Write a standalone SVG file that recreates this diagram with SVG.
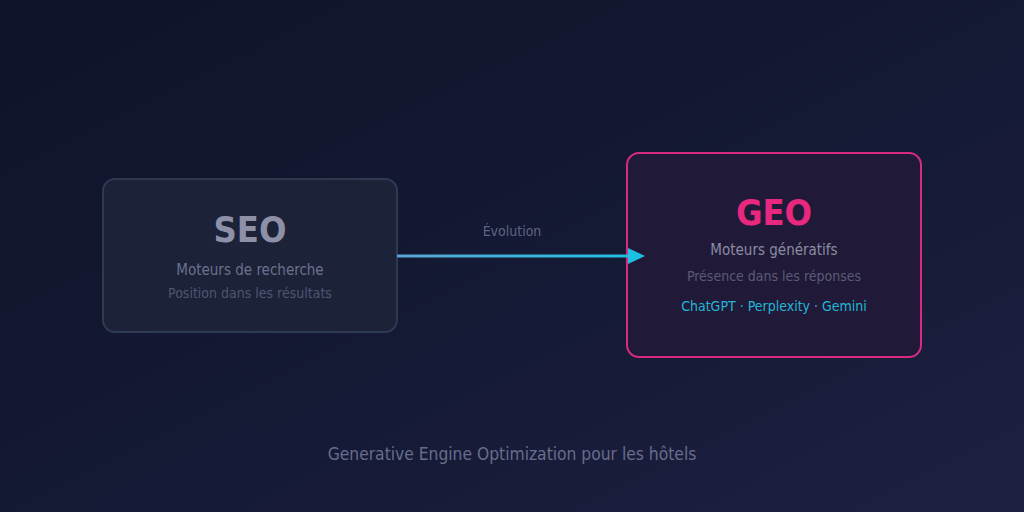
<svg xmlns="http://www.w3.org/2000/svg" width="1024" height="512" viewBox="0 0 1024 512">
  <defs>
    <linearGradient id="bg" x1="0" y1="0" x2="1" y2="1">
      <stop offset="0" stop-color="#0f1329"/>
      <stop offset="0.6" stop-color="#151a36"/>
      <stop offset="1" stop-color="#1e2040"/>
    </linearGradient>
    <linearGradient id="arrowGrad" x1="397" y1="0" x2="640" y2="0" gradientUnits="userSpaceOnUse">
      <stop offset="0" stop-color="#5aa6d6"/>
      <stop offset="1" stop-color="#1cc0e0"/>
    </linearGradient>
    <marker id="arrowhead" markerWidth="18" markerHeight="18" refX="0" refY="8" orient="auto" markerUnits="userSpaceOnUse">
      <path d="M0,0 L17,8 L0,16 Z" fill="#1cc0e0"/>
    </marker>
    <style>
      text { font-family: "DejaVu Sans Condensed", "DejaVu Sans", sans-serif; font-stretch: condensed; text-anchor: middle; }
      .title { font-weight: bold; font-size: 36px; }
      .sub { font-size: 15px; }
      .small { font-size: 14px; }
    </style>
  </defs>
  <rect x="0" y="0" width="1024" height="512" fill="url(#bg)"/>

  <g id="seo">
    <rect x="103" y="179" width="294" height="153" rx="12" fill="#1c2238" stroke="#2e3952" stroke-width="2"/>
    <text x="250" y="242" class="title" fill="#8d90a7">SEO</text>
    <text x="250" y="275" class="sub" fill="#6c718d">Moteurs de recherche</text>
    <text x="250" y="298" class="small" fill="#4f5672">Position dans les résultats</text>
  </g>

  <g id="geo">
    <rect x="627" y="153" width="294" height="204" rx="12" fill="#201a38" stroke="#d82a7e" stroke-width="2"/>
    <text x="774" y="225" class="title" fill="#e8287f">GEO</text>
    <text x="774" y="255" class="sub" fill="#8b8ba2">Moteurs génératifs</text>
    <text x="774" y="281" class="small" fill="#5b5a76">Présence dans les réponses</text>
    <text x="774" y="311" class="small" fill="#22b6d6">ChatGPT · Perplexity · Gemini</text>
  </g>

  <g id="connectors">
    <line x1="397" y1="256" x2="628" y2="256" stroke="url(#arrowGrad)" stroke-width="3" marker-end="url(#arrowhead)"/>
    <text x="512" y="236" class="small" fill="#5e6582">Évolution</text>
  </g>

  <text x="512" y="460" font-size="17.3" fill="#676d8c">Generative Engine Optimization pour les hôtels</text>
</svg>
